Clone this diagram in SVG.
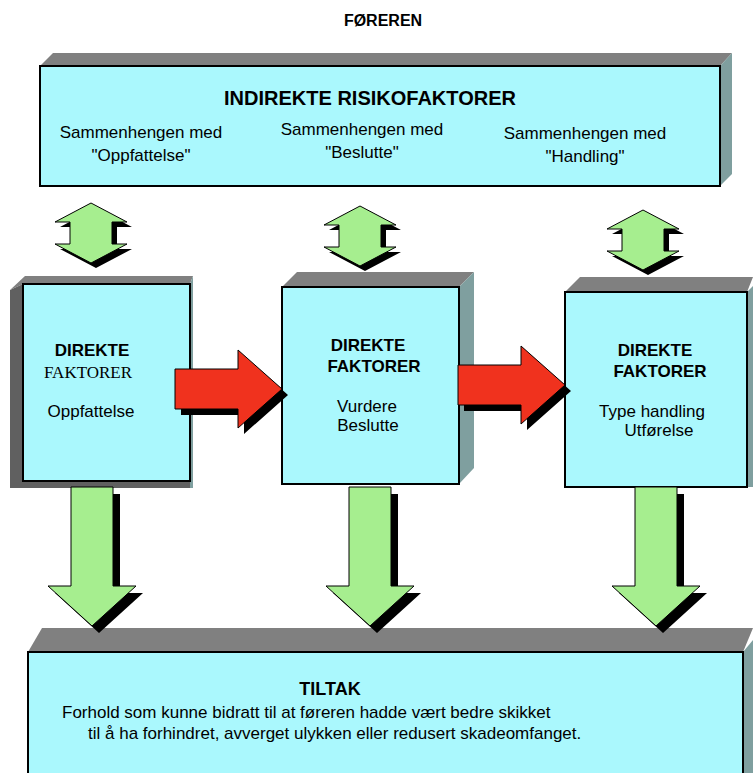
<svg xmlns="http://www.w3.org/2000/svg" width="753" height="773" viewBox="0 0 753 773">
<style>
.front{fill:#AAF8FD;stroke:#000;stroke-width:2}
.topf{fill:#808080}
.leftf{fill:#606060}
.rightf{fill:#7F9F9F}
.t{font-family:"Liberation Sans",Arial,sans-serif;font-size:17px;fill:#000}
.b{font-weight:bold}
.m{text-anchor:middle}
.green{fill:#A6EE8F;stroke:#000;stroke-width:1}
.red{fill:#F0321E;stroke:#000;stroke-width:1}
.sh{fill:#000}
</style>
<defs>
<path id="ud" d="M0,0 L36,19 L21,19 L21,41 L36,41 L0,60 L-36,41 L-21,41 L-21,19 L-36,19 Z"/>
<path id="dn" d="M-21,0 L21,0 L21,99 L44,99 L0,139 L-44,99 L-21,99 Z"/>
<path id="rt" d="M0,-20 L63,-20 L63,-39 L107,0 L63,39 L63,20 L0,20 Z"/>
</defs>
<rect width="753" height="773" fill="#fff"/>
<text class="t b m" x="383" y="26" style="font-size:16px">FØREREN</text>

<g id="top-box">
<polygon class="topf" points="40,66 53,53 732,53 720,66"/>
<polygon class="rightf" points="720,66 732,53 732,174 720,186"/>
<rect class="front" x="40" y="66" width="680" height="120"/>
<text class="t b m" x="370" y="105" style="font-size:20px">INDIREKTE RISIKOFAKTORER</text>
<text class="t m" x="141" y="138">Sammenhengen med</text>
<text class="t m" x="141" y="161">"Oppfattelse"</text>
<text class="t m" x="362" y="135">Sammenhengen med</text>
<text class="t m" x="362" y="158">"Beslutte"</text>
<text class="t m" x="585" y="139">Sammenhengen med</text>
<text class="t m" x="585" y="162">"Handling"</text>
</g>

<g id="box-oppfattelse">
<polygon class="topf" points="10,290 25,276 193,276 190,284 23,284"/>
<polygon class="leftf" points="10,290 23,284 23,481 190,481 190,488 10,488"/>
<polygon class="rightf" points="190,284 193,276 193,488 190,488"/>
<rect class="front" x="23" y="284" width="167" height="197"/>
<text class="t b m" x="92" y="356">DIREKTE</text>
<text class="m" x="88" y="378" style="font-family:'Liberation Serif','Times New Roman',serif;font-size:17px">FAKTORER</text>
<text class="t m" x="91" y="417">Oppfattelse</text>
</g>

<g id="box-beslutte">
<polygon class="topf" points="282,287 297,272 474,272 459,287"/>
<polygon class="rightf" points="459,287 474,272 474,468 459,484"/>
<rect class="front" x="282" y="287" width="177" height="197"/>
<text class="t b m" x="368" y="351">DIREKTE</text>
<text class="t b m" x="374" y="372">FAKTORER</text>
<text class="t m" x="367" y="412">Vurdere</text>
<text class="t m" x="368" y="431">Beslutte</text>
</g>

<g id="box-handling">
<polygon class="topf" points="565,292 580,277 753,277 747,292"/>
<polygon class="rightf" points="747,292 753,286 753,487 747,487"/>
<rect class="front" x="565" y="292" width="182" height="195"/>
<text class="t b m" x="655" y="356">DIREKTE</text>
<text class="t b m" x="660" y="377">FAKTORER</text>
<text class="t m" x="652" y="417">Type handling</text>
<text class="t m" x="659" y="436">Utførelse</text>
</g>

<g id="box-tiltak">
<polygon class="topf" points="28,652 42,628 753,628 743,652"/>
<polygon class="rightf" points="743,652 753,640 753,773 743,773"/>
<rect class="front" x="28" y="652" width="715" height="130"/>
<text class="t b m" x="330" y="695" style="font-size:18px">TILTAK</text>
<text class="t" x="62" y="718">Forhold som kunne bidratt til at føreren hadde vært bedre skikket</text>
<text class="t" x="88" y="739">til å ha forhindret, avverget ulykken eller redusert skadeomfanget.</text>
</g>

<g id="connectors">
<use href="#ud" class="sh" transform="translate(96,208)"/>
<use href="#ud" class="green" transform="translate(91,203)"/>
<use href="#ud" class="sh" transform="translate(365,211)"/>
<use href="#ud" class="green" transform="translate(360,206)"/>
<use href="#ud" class="sh" transform="translate(648,215)"/>
<use href="#ud" class="green" transform="translate(643,210)"/>

<use href="#rt" class="sh" transform="translate(181,395)"/>
<use href="#rt" class="red" transform="translate(175,389)"/>
<use href="#rt" class="sh" transform="translate(464,391)"/>
<use href="#rt" class="red" transform="translate(458,385)"/>

<use href="#dn" class="sh" transform="translate(99,494)"/>
<use href="#dn" class="green" transform="translate(92,487)"/>
<use href="#dn" class="sh" transform="translate(377,494)"/>
<use href="#dn" class="green" transform="translate(370,487)"/>
<use href="#dn" class="sh" transform="translate(663,494)"/>
<use href="#dn" class="green" transform="translate(656,487)"/>
</g>
</svg>
